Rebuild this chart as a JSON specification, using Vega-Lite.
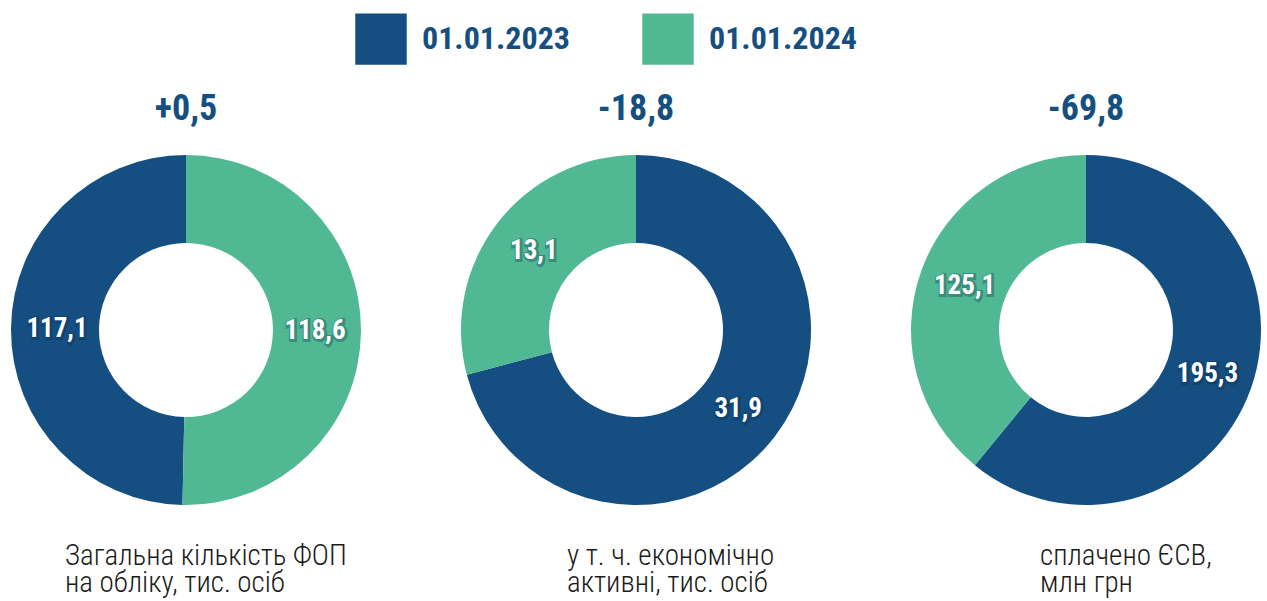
{
  "$schema": "https://vega.github.io/schema/vega-lite/v6.json",
  "padding": {"left": 11, "top": 13, "right": 5, "bottom": 0},
  "background": "white",
  "config": {
    "view": {"stroke": null},
    "locale": {"number": {"decimal": ",", "thousands": " ", "grouping": [3], "currency": ["", ""]}},
    "title": {"font": "Roboto Condensed, Liberation Sans Narrow, DejaVu Sans Condensed, Roboto", "fontWeight": "bold", "fontSize": 36, "color": "#154f82"}
  },
  "datasets": {
    "donuts": [
      {"panel": "fop", "date": "01.01.2023", "value": 117.1},
      {"panel": "fop", "date": "01.01.2024", "value": 118.6},
      {"panel": "active", "date": "01.01.2023", "value": 31.9},
      {"panel": "active", "date": "01.01.2024", "value": 13.1},
      {"panel": "esv", "date": "01.01.2023", "value": 195.3},
      {"panel": "esv", "date": "01.01.2024", "value": 125.1}
    ]
  },
  "spacing": 100,
  "hconcat": [
    {
      "title": {"text": ["Загальна кількість ФОП", "на обліку, тис. осіб"], "orient": "bottom", "anchor": "start", "dx": 54, "offset": 37, "font": "Roboto Condensed, Liberation Sans Narrow, DejaVu Sans Condensed, Roboto", "fontWeight": 300, "fontSize": 29, "lineHeight": 27, "color": "#1a1a1a"},
      "vconcat": [
        {
          "title": {"text": "+0,5", "offset": 27},
          "width": 350, "height": 350,
          "data": {"name": "donuts"},
          "transform": [{"filter": "datum.panel === 'fop'"}],
          "encoding": {
            "theta": {"field": "value", "type": "quantitative", "stack": true},
            "order": {"field": "date", "type": "ordinal", "sort": "descending"},
            "detail": {"field": "date", "type": "nominal"},
            "color": {"field": "date", "type": "nominal", "scale": {"domain": ["01.01.2023", "01.01.2024"], "range": ["#154f82", "#50b994"]},
              "legend": {"orient": "none", "legendX": 344, "legendY": -142, "direction": "horizontal", "title": null, "symbolType": "square", "symbolSize": 2650, "symbolStrokeWidth": 0, "symbolOpacity": 1, "labelFont": "Roboto Condensed, Liberation Sans Narrow, DejaVu Sans Condensed, Roboto", "labelFontSize": 32, "labelFontWeight": "bold", "labelColor": "#154f82", "labelOffset": 15, "labelLimit": 400, "columnPadding": 72, "padding": 0}}
          },
          "layer": [
            {"mark": {"type": "arc", "innerRadius": 87, "outerRadius": 175}},
            {"mark": {"type": "text", "radius": 129, "font": "Roboto Condensed, Liberation Sans Narrow, DejaVu Sans Condensed, Roboto", "fontWeight": "bold", "fontSize": 27, "stroke": "#0b2a47", "strokeWidth": 4, "opacity": 0.3, "dx": 1, "dy": 1},
             "encoding": {"text": {"field": "value", "type": "quantitative", "format": ".1f"}, "color": {"value": "#0b2a47"}}},
            {"mark": {"type": "text", "radius": 129, "font": "Roboto Condensed, Liberation Sans Narrow, DejaVu Sans Condensed, Roboto", "fontWeight": "bold", "fontSize": 27},
             "encoding": {"text": {"field": "value", "type": "quantitative", "format": ".1f"}, "color": {"value": "white"}}}
          ]
        }
      ]
    },
    {
      "title": {"text": ["у т. ч. економічно", "активні, тис. осіб"], "orient": "bottom", "anchor": "start", "dx": 106, "offset": 37, "font": "Roboto Condensed, Liberation Sans Narrow, DejaVu Sans Condensed, Roboto", "fontWeight": 300, "fontSize": 29, "lineHeight": 27, "color": "#1a1a1a"},
      "vconcat": [
        {
          "title": {"text": "-18,8", "offset": 27},
          "width": 350, "height": 350,
          "data": {"name": "donuts"},
          "transform": [{"filter": "datum.panel === 'active'"}],
          "encoding": {
            "theta": {"field": "value", "type": "quantitative", "stack": true},
            "order": {"field": "date", "type": "ordinal", "sort": "ascending"},
            "detail": {"field": "date", "type": "nominal"},
            "color": {"field": "date", "type": "nominal", "scale": {"domain": ["01.01.2023", "01.01.2024"], "range": ["#154f82", "#50b994"]},
              "legend": {"orient": "none", "legendX": 344, "legendY": -142, "direction": "horizontal", "title": null, "symbolType": "square", "symbolSize": 2650, "symbolStrokeWidth": 0, "symbolOpacity": 1, "labelFont": "Roboto Condensed, Liberation Sans Narrow, DejaVu Sans Condensed, Roboto", "labelFontSize": 32, "labelFontWeight": "bold", "labelColor": "#154f82", "labelOffset": 15, "labelLimit": 400, "columnPadding": 72, "padding": 0}}
          },
          "layer": [
            {"mark": {"type": "arc", "innerRadius": 87, "outerRadius": 175}},
            {"mark": {"type": "text", "radius": 129, "font": "Roboto Condensed, Liberation Sans Narrow, DejaVu Sans Condensed, Roboto", "fontWeight": "bold", "fontSize": 27, "stroke": "#0b2a47", "strokeWidth": 4, "opacity": 0.3, "dx": 1, "dy": 1},
             "encoding": {"text": {"field": "value", "type": "quantitative", "format": ".1f"}, "color": {"value": "#0b2a47"}}},
            {"mark": {"type": "text", "radius": 129, "font": "Roboto Condensed, Liberation Sans Narrow, DejaVu Sans Condensed, Roboto", "fontWeight": "bold", "fontSize": 27},
             "encoding": {"text": {"field": "value", "type": "quantitative", "format": ".1f"}, "color": {"value": "white"}}}
          ]
        }
      ]
    },
    {
      "title": {"text": ["сплачено ЄСВ,", "млн грн"], "orient": "bottom", "anchor": "start", "dx": 129, "offset": 37, "font": "Roboto Condensed, Liberation Sans Narrow, DejaVu Sans Condensed, Roboto", "fontWeight": 300, "fontSize": 29, "lineHeight": 27, "color": "#1a1a1a"},
      "vconcat": [
        {
          "title": {"text": "-69,8", "offset": 27},
          "width": 350, "height": 350,
          "data": {"name": "donuts"},
          "transform": [{"filter": "datum.panel === 'esv'"}],
          "encoding": {
            "theta": {"field": "value", "type": "quantitative", "stack": true},
            "order": {"field": "date", "type": "ordinal", "sort": "ascending"},
            "detail": {"field": "date", "type": "nominal"},
            "color": {"field": "date", "type": "nominal", "scale": {"domain": ["01.01.2023", "01.01.2024"], "range": ["#154f82", "#50b994"]},
              "legend": {"orient": "none", "legendX": 344, "legendY": -142, "direction": "horizontal", "title": null, "symbolType": "square", "symbolSize": 2650, "symbolStrokeWidth": 0, "symbolOpacity": 1, "labelFont": "Roboto Condensed, Liberation Sans Narrow, DejaVu Sans Condensed, Roboto", "labelFontSize": 32, "labelFontWeight": "bold", "labelColor": "#154f82", "labelOffset": 15, "labelLimit": 400, "columnPadding": 72, "padding": 0}}
          },
          "layer": [
            {"mark": {"type": "arc", "innerRadius": 87, "outerRadius": 175}},
            {"mark": {"type": "text", "radius": 129, "font": "Roboto Condensed, Liberation Sans Narrow, DejaVu Sans Condensed, Roboto", "fontWeight": "bold", "fontSize": 27, "stroke": "#0b2a47", "strokeWidth": 4, "opacity": 0.3, "dx": 1, "dy": 1},
             "encoding": {"text": {"field": "value", "type": "quantitative", "format": ".1f"}, "color": {"value": "#0b2a47"}}},
            {"mark": {"type": "text", "radius": 129, "font": "Roboto Condensed, Liberation Sans Narrow, DejaVu Sans Condensed, Roboto", "fontWeight": "bold", "fontSize": 27},
             "encoding": {"text": {"field": "value", "type": "quantitative", "format": ".1f"}, "color": {"value": "white"}}}
          ]
        }
      ]
    }
  ]
}
